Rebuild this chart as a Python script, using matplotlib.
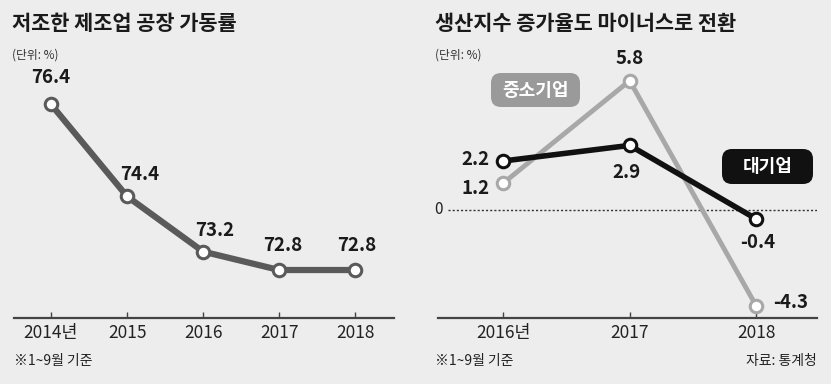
import matplotlib
matplotlib.use("Agg")
import matplotlib.pyplot as plt
from matplotlib.patches import FancyBboxPatch

plt.rcParams['font.family'] = ['Noto Sans CJK KR', 'DejaVu Sans']

# ---- data ----
left_years = ['2014년', '2015', '2016', '2017', '2018']
left_rate = [76.4, 74.4, 73.2, 72.8, 72.8]

right_years = ['2016년', '2017', '2018']
large_firms = [2.2, 2.9, -0.4]
small_firms = [1.2, 5.8, -4.3]

BG = '#ededed'
W, H = 831, 384
fig = plt.figure(figsize=(W / 100, H / 100), dpi=100, facecolor=BG)


def rect(x0, y0, x1, y1):
    return [x0 / W, 1 - y1 / H, (x1 - x0) / W, (y1 - y0) / H]


def style_axis(ax, labels):
    ax.set_facecolor('none')
    for s in ['top', 'right', 'left']:
        ax.spines[s].set_visible(False)
    ax.spines['bottom'].set_color('#444444')
    ax.spines['bottom'].set_linewidth(1.6)
    ax.set_yticks([])
    ax.set_xticks(range(len(labels)))
    ax.set_xticklabels(labels, fontsize=12.5, color='#222222')
    ax.tick_params(axis='x', direction='in', length=4, width=1, color='#444444', pad=4)


def label_box(x0, y0, x1, y1, text, fc):
    fig.patches.append(FancyBboxPatch((x0 / W, 1 - y1 / H), (x1 - x0) / W, (y1 - y0) / H,
                                      boxstyle='round,pad=0,rounding_size=0.012',
                                      transform=fig.transFigure, fc=fc, ec='none',
                                      mutation_aspect=W / H))
    fig.text((x0 + x1) / 2 / W, 1 - (y0 + y1) / 2 / H, text, fontsize=13,
             fontweight='bold', color='white', ha='center', va='center')


# ---- left panel ----
ax1 = fig.add_axes(rect(14, 60, 394, 318))
ax1.set_xlim(-0.487, 4.51)
ax1.set_ylim(71.757, 77.365)
style_axis(ax1, left_years)
x1 = list(range(len(left_rate)))
ax1.plot(x1, left_rate, color='#5a5a5a', lw=4.5, solid_capstyle='round',
         marker='o', markersize=9, markerfacecolor='white',
         markeredgecolor='#5a5a5a', markeredgewidth=2.2, clip_on=False, zorder=3)
left_off = [(0, 27), (13, 22), (12, 21), (4, 25), (2, 25)]
for xi, v, (dx, dy) in zip(x1, left_rate, left_off):
    ax1.annotate(f'{v:.1f}', (xi, v), xytext=(dx * 0.72, dy * 0.72),
                 textcoords='offset points', ha='center', va='center',
                 fontsize=13.5, fontweight='bold', color='#1a1a1a')

fig.text(12 / W, 1 - 23 / H, '저조한 제조업 공장 가동률', fontsize=15,
         fontweight='bold', color='#1a1a1a', ha='left', va='center')
fig.text(12 / W, 1 - 55 / H, '(단위: %)', fontsize=8.5, color='#333333',
         ha='left', va='center')
fig.text(14 / W, 1 - 361 / H, '※1~9월 기준', fontsize=10, color='#222222',
         ha='left', va='center')

# ---- right panel ----
ax2 = fig.add_axes(rect(438, 60, 817, 318))
ax2.set_xlim(-0.514, 2.48)
ax2.set_ylim(-4.84, 6.73)
style_axis(ax2, right_years)
ax2.axhline(0, xmin=(448 - 438) / (817 - 438), xmax=1, color='#333333',
            lw=1.0, ls=(0, (1.5, 1.5)), zorder=1)
ax2.text(438 / W, 1 - 210 / H, '0', transform=fig.transFigure, fontsize=11,
         ha='center', va='center', color='#222222')

x2 = list(range(len(large_firms)))
ax2.plot(x2, small_firms, color='#a8a8a8', lw=3.5, marker='o', markersize=9,
         markerfacecolor='white', markeredgecolor='#a8a8a8',
         markeredgewidth=2.2, clip_on=False, zorder=2)
ax2.plot(x2, large_firms, color='#111111', lw=4, marker='o', markersize=9,
         markerfacecolor='white', markeredgecolor='#111111',
         markeredgewidth=2.2, clip_on=False, zorder=3)

large_off = [(-28, 2), (-3, -27), (1, -24)]
small_off = [(-28, -5), (0, 22), (34, 3)]
for xi, v, (dx, dy) in zip(x2, large_firms, large_off):
    ax2.annotate(f'{v:.1f}', (xi, v), xytext=(dx * 0.72, dy * 0.72),
                 textcoords='offset points', ha='center', va='center',
                 fontsize=13.5, fontweight='bold', color='#1a1a1a')
for xi, v, (dx, dy) in zip(x2, small_firms, small_off):
    ax2.annotate(f'{v:.1f}', (xi, v), xytext=(dx * 0.72, dy * 0.72),
                 textcoords='offset points', ha='center', va='center',
                 fontsize=13.5, fontweight='bold', color='#1a1a1a')

label_box(491, 73, 580, 107, '중소기업', '#9a9a9a')
label_box(722, 149, 813, 184, '대기업', '#111111')

fig.text(435 / W, 1 - 23 / H, '생산지수 증가율도 마이너스로 전환', fontsize=15,
         fontweight='bold', color='#1a1a1a', ha='left', va='center')
fig.text(435 / W, 1 - 55 / H, '(단위: %)', fontsize=8.5, color='#333333',
         ha='left', va='center')
fig.text(435 / W, 1 - 361 / H, '※1~9월 기준', fontsize=10, color='#222222',
         ha='left', va='center')
fig.text(817 / W, 1 - 361 / H, '자료: 통계청', fontsize=10, color='#222222',
         ha='right', va='center')

fig.savefig('out.png', dpi=100, facecolor=BG)
